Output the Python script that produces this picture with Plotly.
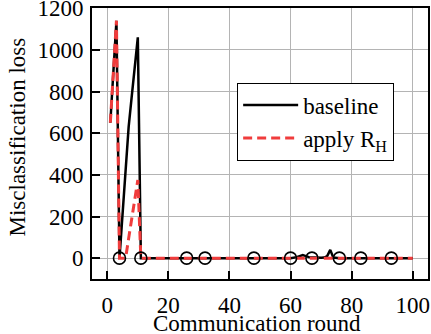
import plotly.graph_objects as go

# ---- data ----
baseline_rounds = [1, 2, 3, 4, 5, 6, 7, 8, 9, 10, 11, 20, 30, 40, 50, 60, 62, 64, 66, 68, 70, 71, 72, 73, 74, 76, 80, 90, 100]
baseline_loss = [650, 895, 1140, 0, 210, 420, 630, 775, 920, 1060, 0, 0, 0, 0, 0, 0, 5, 15, 5, 2, 2, 3, 10, 40, 3, 0, 0, 0, 0]

rh_rounds = [1, 2, 3, 4, 5, 6, 7, 8, 9, 10, 11, 20, 40, 60, 80, 100]
rh_loss = [650, 895, 1140, 0, 0, 0, 95, 190, 280, 375, 0, 0, 0, 0, 0, 0]

marker_rounds = [4, 11, 26, 32, 48, 60, 67, 76, 83, 93]
marker_loss = [0, 0, 0, 0, 0, 0, 0, 0, 0, 0]

x_ticks = [0, 20, 40, 60, 80, 100]
y_ticks = [0, 200, 400, 600, 800, 1000, 1200]

FONT = "'Liberation Serif', 'Times New Roman', Times, serif"
FS = 23

fig = go.Figure()
fig.add_trace(go.Scatter(x=baseline_rounds, y=baseline_loss, mode="lines", name="baseline",
                         line=dict(color="black", width=2.5)))
fig.add_trace(go.Scatter(x=rh_rounds, y=rh_loss, mode="lines", name="apply R<sub>H</sub>",
                         line=dict(color="#f03c3c", width=3, dash="9px,5px")))
fig.add_trace(go.Scatter(x=marker_rounds, y=marker_loss, mode="markers", showlegend=False,
                         marker=dict(symbol="circle-open", size=12, color="black", line=dict(width=1.6))))

axis_common = dict(showline=True, linecolor="black", linewidth=2, mirror=True,
                   ticks="inside", ticklen=8, tickwidth=2, tickcolor="black",
                   showgrid=True, gridcolor="#b4b4b4", gridwidth=1, zeroline=False,
                   ticklabeloverflow="allow",
                   tickfont=dict(family=FONT, size=FS, color="black"))

fig.update_xaxes(range=[-5, 105], tickvals=x_ticks, ticktext=[str(v) for v in x_ticks],
                 ticklabelstandoff=4, **axis_common)
fig.update_yaxes(range=[-100, 1201], tickvals=y_ticks, ticktext=[str(v) for v in y_ticks],
                 ticklabelstandoff=2, **axis_common)

fig.update_layout(
    width=431, height=334,
    margin=dict(l=92, r=3, t=8, b=55, autoexpand=False),
    paper_bgcolor="white", plot_bgcolor="white",
    font=dict(family=FONT, size=FS, color="black"),
    showlegend=True,
    legend=dict(x=0.432, y=0.725, xanchor="left", yanchor="top",
                bgcolor="white", bordercolor="black", borderwidth=1,
                font=dict(family=FONT, size=FS, color="black"),
                itemwidth=55, tracegroupgap=0),
    annotations=[
        dict(text="Communication round", xref="paper", yref="paper", x=0.49, y=0,
             xanchor="center", yanchor="middle", yshift=-44, showarrow=False,
             font=dict(family=FONT, size=FS, color="black")),
        dict(text="Misclassification loss", xref="paper", yref="paper", x=0, y=0.5,
             xanchor="center", yanchor="middle", xshift=-75, yshift=6, textangle=-90,
             showarrow=False, font=dict(family=FONT, size=FS, color="black")),
    ],
)

fig.write_html("out.html", config={"displayModeBar": False},
               post_script="document.body.style.margin='0';document.body.style.overflow='hidden';")
